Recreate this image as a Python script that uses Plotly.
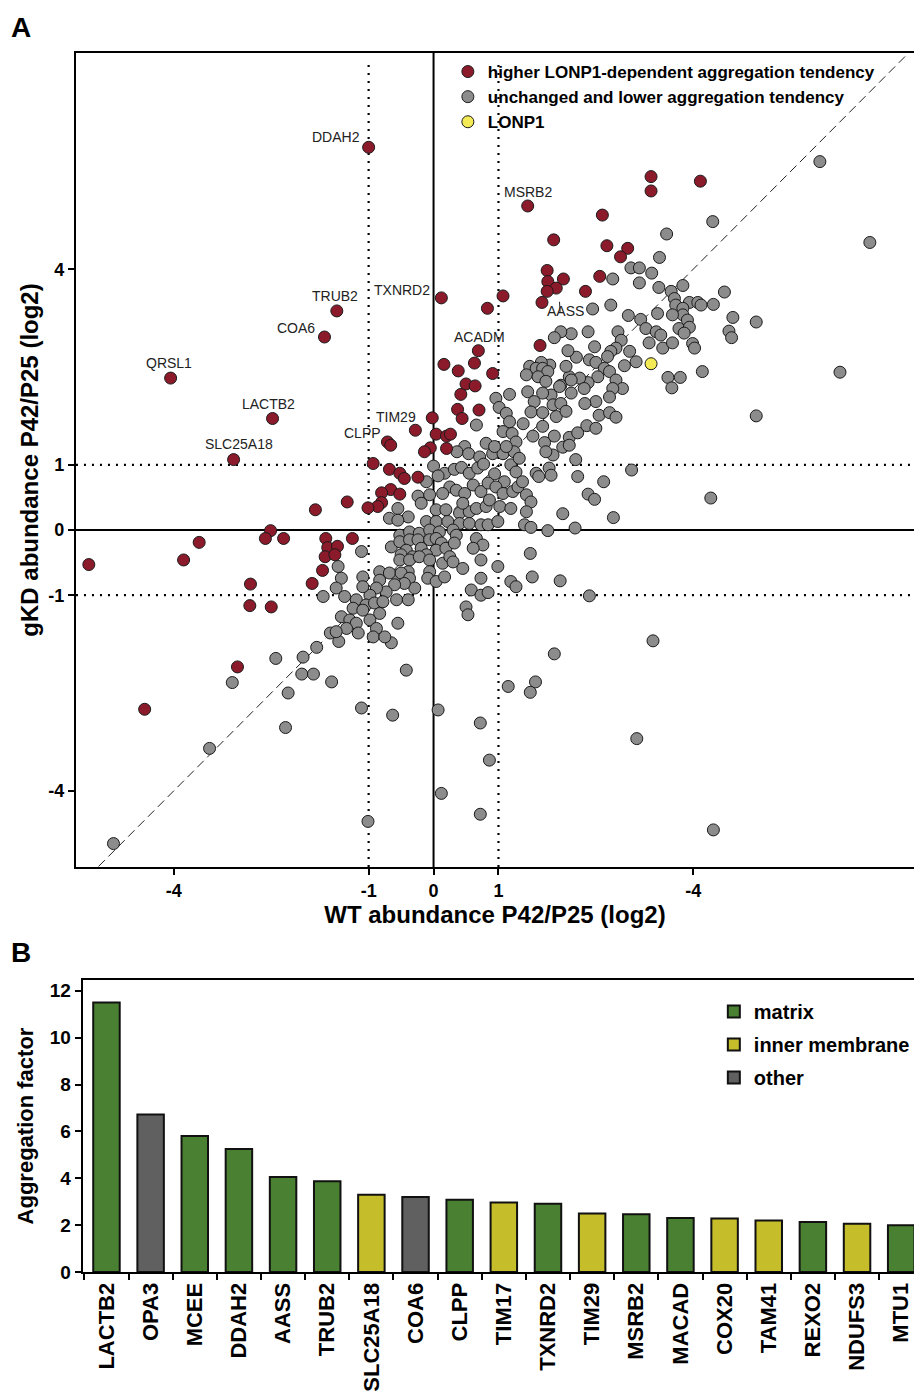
import plotly.graph_objects as go

# ---------------- Panel A data (log2 P42/P25) ----------------
red_pts = [
    (-1.00, 5.87), (0.12, 3.56), (-1.49, 3.36), (-1.68, 2.96), (-4.05, 2.33), (-2.48, 1.71),
    (-3.08, 1.08), (-0.02, 1.72), (-0.28, 1.53), (-0.71, 1.35), (-0.66, 1.30), (0.16, 2.54),
    (0.38, 2.44), (0.42, 2.08), (0.37, 1.85), (0.44, 1.71), (0.04, 1.47), (0.20, 1.44),
    (0.26, 1.47), (-0.05, 1.26), (-0.14, 1.20), (0.20, 1.25), (-0.93, 1.02), (0.83, 3.40),
    (1.07, 3.59), (0.69, 2.75), (0.63, 2.56), (0.91, 2.40), (0.50, 2.24), (0.64, 2.21),
    (0.70, 1.84), (-0.68, 0.93), (-0.52, 0.87), (-0.45, 0.79), (-0.24, 0.81), (-0.66, 0.62),
    (-0.80, 0.57), (-0.52, 0.55), (-0.80, 0.42), (-0.86, 0.36), (-1.01, 0.34), (-1.33, 0.43),
    (-1.82, 0.31), (-2.51, -0.01), (-2.59, -0.13), (-2.31, -0.13), (-3.61, -0.19), (-3.85, -0.46),
    (-5.31, -0.53), (-1.66, -0.13), (-1.25, -0.13), (-1.63, -0.27), (-1.48, -0.25), (-1.67, -0.41),
    (-1.52, -0.38), (-1.71, -0.62), (-1.87, -0.82), (-2.82, -0.83), (-2.83, -1.16), (-2.50, -1.18),
    (-3.02, -2.10), (-4.45, -2.75), (1.45, 4.97), (3.35, 5.42), (3.35, 5.20), (4.11, 5.35),
    (2.60, 4.83), (1.85, 4.45), (2.67, 4.36), (2.99, 4.32), (2.88, 4.19), (1.75, 3.98),
    (1.76, 3.81), (2.00, 3.85), (1.89, 3.71), (1.75, 3.66), (1.67, 3.49), (2.34, 3.66),
    (2.56, 3.89), (1.64, 2.83),
]

gray_pts = [
    # lower-left tail
    (-4.93, -4.81), (-3.45, -3.35), (-3.10, -2.34), (-2.43, -1.97), (-2.24, -2.50), (-2.28, -3.03),
    (-2.01, -1.95), (-1.80, -1.80), (-2.03, -2.21), (-1.85, -2.21), (-1.57, -2.33), (-1.59, -1.58),
    (-1.46, -1.71), (-1.70, -1.02), (-1.11, -2.73), (-0.63, -2.84), (0.07, -2.76), (0.12, -4.04),
    (-1.01, -4.47), (-0.65, -1.73), (-0.42, -2.15),
    # above the centre
    (1.17, 2.08), (0.96, 2.02), (1.01, 1.88), (1.12, 1.79), (1.17, 1.66), (1.07, 1.51),
    (1.21, 1.48), (1.27, 1.35), (0.66, 1.61), (0.81, 1.33), (0.48, 1.28), (0.36, 1.20),
    (0.54, 1.17), (0.71, 1.12), (0.91, 1.17), (1.07, 1.17), (1.24, 1.20), (0.94, 1.28), (1.12, 1.28),
    # dense centre
    (0.00, 0.98), (0.17, 0.87), (0.32, 0.93), (0.43, 0.96), (0.55, 0.87), (0.68, 0.95), (0.77, 1.01),
    (0.94, 0.86), (1.09, 0.74), (1.19, 1.00), (1.27, 0.89), (-0.11, 0.74), (0.07, 0.83), (0.25, 0.66),
    (0.35, 0.61), (0.48, 0.56), (0.61, 0.69), (0.73, 0.59), (0.84, 0.72), (0.96, 0.66), (1.07, 0.56),
    (1.22, 0.59), (1.30, 0.66), (-0.24, 0.52), (-0.06, 0.54), (0.14, 0.56), (-0.55, 0.33), (-0.68, 0.18),
    (-0.39, 0.20), (-0.55, 0.15), (-0.19, 0.41), (0.04, 0.31), (0.19, 0.31), (0.40, 0.26), (0.55, 0.28),
    (0.66, 0.33), (0.81, 0.36), (1.02, 0.36), (1.19, 0.33), (0.86, 0.46), (0.45, 0.41), (-0.11, 0.13),
    (0.04, 0.13), (0.22, 0.13), (0.40, 0.10), (0.55, 0.10), (0.73, 0.08), (0.84, 0.08), (0.99, 0.13),
    (-0.52, -0.08), (-0.37, -0.03), (-0.22, -0.05), (-0.06, 0.00), (0.09, -0.03), (0.30, 0.00),
    (0.35, -0.08), (-0.65, -0.26), (-0.52, -0.18), (-0.37, -0.15), (-0.24, -0.15), (-0.06, -0.15),
    (0.04, -0.13), (0.12, -0.20), (0.04, -0.31), (0.19, -0.28), (0.32, -0.20), (0.66, -0.13),
    (0.76, -0.23), (0.61, -0.28), (-0.19, -0.28), (-0.42, -0.31), (-0.50, -0.38), (-0.32, -0.41),
    (-0.11, -0.38), (-0.52, -0.46), (-0.37, -0.46), (-0.22, -0.41), (-0.06, -0.46), (0.14, -0.51),
    (0.25, -0.41), (0.30, -0.49), (0.45, -0.59), (0.73, -0.46), (0.99, -0.56), (-0.06, -0.64),
    (-0.39, -0.64), (-0.57, -0.69), (-0.83, -0.64), (-1.09, -0.72), (-0.83, -0.77), (-0.68, -0.66),
    (-0.50, -0.66), (-0.37, -0.74), (-0.29, -0.89), (-0.45, -0.82), (-0.60, -0.84), (-0.73, -0.95),
    (-0.88, -0.89), (-0.98, -1.00), (-1.09, -0.87), (-0.09, -0.74), (0.04, -0.79), (0.17, -0.72),
    (0.73, -0.74), (0.58, -0.92), (0.73, -1.00), (0.84, -0.96), (1.19, -0.79), (1.27, -0.87),
    (-1.37, -1.02), (-1.19, -1.07), (-1.04, -1.15), (-0.91, -1.12), (-0.78, -1.10), (-0.57, -1.07),
    (-0.39, -1.07), (-1.24, -1.20), (-1.09, -1.23), (-0.83, -1.28), (0.50, -1.18), (0.53, -1.30),
    (-1.42, -1.33), (-1.29, -1.38), (-1.19, -1.43), (-0.98, -1.38), (-1.34, -1.51), (-1.16, -1.58),
    (-0.88, -1.51), (-0.55, -1.43), (-1.50, -1.56), (-0.93, -1.64), (-0.75, -1.64), (-1.47, -0.56),
    (-1.42, -0.74), (-1.50, -0.89), (-1.11, -0.33),
    # upper-right cloud
    (3.59, 4.54), (4.30, 4.73), (3.48, 4.18), (3.04, 4.02), (3.17, 4.02), (3.36, 3.94), (2.76, 3.85),
    (3.17, 3.79), (3.47, 3.72), (3.84, 3.75), (3.66, 3.66), (3.71, 3.55), (3.73, 3.45), (3.94, 3.49),
    (4.07, 3.49), (4.12, 3.45), (4.31, 3.46), (4.48, 3.65), (4.61, 3.26), (4.55, 3.05), (4.59, 2.95),
    (3.84, 3.40), (3.84, 3.30), (3.68, 3.30), (3.91, 3.22), (3.78, 3.09), (3.94, 3.11), (3.86, 3.02),
    (3.99, 2.86), (4.02, 2.79), (4.14, 2.43), (3.45, 3.32), (3.19, 3.23), (3.27, 3.09), (3.43, 3.04),
    (3.50, 2.99), (3.32, 2.87), (3.53, 2.79), (3.68, 2.87), (3.00, 3.29), (2.73, 3.45), (2.45, 3.39),
    (2.84, 3.04), (2.89, 2.91), (3.02, 2.74), (3.12, 2.58), (2.94, 2.52), (2.81, 2.79), (2.73, 2.74),
    (2.68, 2.66), (2.48, 2.81), (2.38, 3.04), (2.12, 3.01), (1.96, 3.04), (1.86, 2.95), (2.20, 2.65),
    (2.07, 2.75), (2.40, 2.61), (2.50, 2.57), (2.63, 2.48), (2.71, 2.43), (2.53, 2.35), (2.38, 2.26),
    (2.25, 2.33), (2.09, 2.35), (2.04, 2.51), (1.79, 2.53), (1.66, 2.57), (1.48, 2.51), (1.58, 2.48),
    (1.68, 2.48), (1.76, 2.43), (1.43, 2.38), (1.61, 2.35), (1.73, 2.28), (1.96, 2.22), (2.12, 2.30),
    (2.81, 2.30), (2.91, 2.17), (2.76, 2.17), (2.71, 2.04), (2.50, 1.97), (2.32, 2.17), (2.12, 2.10),
    (1.94, 2.20), (1.81, 2.07), (1.68, 2.10), (1.45, 2.12), (1.55, 1.97), (1.84, 1.92), (1.96, 1.94),
    (2.33, 1.94), (3.61, 2.34), (3.80, 2.34), (3.67, 2.18),
    # right of centre
    (1.50, 1.81), (1.68, 1.80), (1.89, 1.74), (2.04, 1.82), (2.55, 1.76), (2.71, 1.80), (2.81, 1.73),
    (1.38, 1.63), (1.68, 1.59), (1.86, 1.44), (1.71, 1.34), (1.53, 1.44), (2.09, 1.42), (2.22, 1.49),
    (2.36, 1.60), (2.50, 1.56), (1.99, 1.27), (2.09, 1.30), (1.84, 1.15), (1.73, 1.20), (1.32, 1.10),
    (2.19, 1.08), (1.78, 0.95), (1.81, 0.84), (1.58, 0.87), (1.62, 0.82), (2.22, 0.82), (2.62, 0.74),
    (3.05, 0.92), (1.37, 0.74), (1.43, 0.54), (1.50, 0.43), (1.43, 0.28), (2.38, 0.55), (2.48, 0.47),
    (1.99, 0.25), (2.77, 0.19), (1.40, 0.08), (1.50, 0.04), (1.76, -0.01), (2.18, 0.03), (1.49, -0.36),
    # scattered outliers
    (4.97, 3.19), (6.26, 2.42), (4.97, 1.75), (5.95, 5.65), (6.72, 4.41), (4.27, 0.49), (3.38, -1.70),
    (1.86, -1.90), (1.57, -2.33), (1.49, -2.49), (1.15, -2.40), (0.72, -2.96), (0.86, -3.53),
    (0.72, -4.36), (3.13, -3.20), (4.31, -4.60), (2.40, -1.01), (1.95, -0.78), (1.52, -0.72),
]

lonp1_pts = [(3.35, 2.55)]

gene_labels = ["DDAH2", "TXNRD2", "TRUB2", "COA6", "QRSL1", "LACTB2", "SLC25A18",
               "TIM29", "CLPP", "MSRB2", "ACADM", "AASS"]
gene_label_x = [-1.51, -0.49, -1.52, -2.12, -4.08, -2.55, -3.00, -0.58, -1.09, 1.46, 0.71, 2.03]
gene_label_y = [6.03, 3.68, 3.59, 3.10, 2.56, 1.93, 1.32, 1.73, 1.49, 5.18, 2.96, 3.36]

x_tickvals = [-4, -1, 0, 1, 4]
x_ticktext = ["-4", "-1", "0", "1", "-4"]
y_tickvals = [-4, -1, 0, 1, 4]
y_ticktext = ["-4", "-1", "0", "1", "4"]

# ---------------- Panel B data ----------------
proteins = ["LACTB2", "OPA3", "MCEE", "DDAH2", "AASS", "TRUB2", "SLC25A18", "COA6", "CLPP",
            "TIM17", "TXNRD2", "TIM29", "MSRB2", "MACAD", "COX20", "TAM41", "REXO2", "NDUFS3", "MTU1"]
agg_factor = [11.5, 6.72, 5.8, 5.25, 4.05, 3.87, 3.3, 3.2, 3.08, 2.97, 2.91, 2.5, 2.46, 2.3,
              2.28, 2.2, 2.13, 2.06, 2.0]
location = ["matrix", "other", "matrix", "matrix", "matrix", "matrix", "inner membrane", "other",
            "matrix", "inner membrane", "matrix", "inner membrane", "matrix", "matrix",
            "inner membrane", "inner membrane", "matrix", "inner membrane", "matrix"]
loc_order = ["matrix", "inner membrane", "other"]
loc_colors = {"matrix": "#4a8032", "inner membrane": "#c6bd2a", "other": "#606060"}

FONT = "Liberation Sans, Arial, sans-serif"
H_EFF = 1381.0  # effective rendered height used for vertical placement


def py(pixel_y):
    """paper fraction for a vertical pixel position"""
    return 1 - pixel_y / H_EFF


fig = go.Figure()

def col(pts, i):
    return [p[i] for p in pts]

MS = 12
fig.add_trace(go.Scatter(
    x=col(gray_pts, 0), y=col(gray_pts, 1), mode="markers",
    name="unchanged and lower aggregation tendency", legendrank=2,
    marker=dict(size=MS, color="#8c8c8c", line=dict(color="#1a1a1a", width=1)),
    xaxis="x", yaxis="y"))
fig.add_trace(go.Scatter(
    x=col(red_pts, 0), y=col(red_pts, 1), mode="markers",
    name="higher LONP1-dependent aggregation tendency", legendrank=1,
    marker=dict(size=MS, color="#8b1a2b", line=dict(color="#1a1a1a", width=1)),
    xaxis="x", yaxis="y"))
fig.add_trace(go.Scatter(
    x=col(lonp1_pts, 0), y=col(lonp1_pts, 1), mode="markers",
    name="LONP1", legendrank=3,
    marker=dict(size=MS, color="#f3ea55", line=dict(color="#1a1a1a", width=1)),
    xaxis="x", yaxis="y"))

for loc in loc_order:
    xs = [p for p, l in zip(proteins, location) if l == loc]
    ys = [v for v, l in zip(agg_factor, location) if l == loc]
    fig.add_trace(go.Bar(
        x=xs, y=ys, name=loc, width=0.6, legend="legend2", legendgroup=loc,
        marker=dict(color=loc_colors[loc], line=dict(color="#111111", width=2)),
        xaxis="x2", yaxis="y2"))

# reference lines in panel A
DOT = "2px,6px"
shapes = []
for xv, dash, top in [(-1, DOT, 0.99), (1, DOT, 0.99), (0, "solid", 1.0)]:
    shapes.append(dict(type="line", xref="x", yref="y domain", x0=xv, x1=xv, y0=0, y1=top,
                       line=dict(color="black", width=2 if dash == "solid" else 2.2, dash=dash),
                       layer="below"))
for yv, dash in [(-1, DOT), (1, DOT), (0, "solid")]:
    shapes.append(dict(type="line", xref="x domain", yref="y", x0=0, x1=1, y0=yv, y1=yv,
                       line=dict(color="black", width=2 if dash == "solid" else 2.2, dash=dash),
                       layer="below"))
shapes.append(dict(type="line", xref="x", yref="y", x0=-5.16, y0=-5.16, x1=7.31, y1=7.31,
                   line=dict(color="#222222", width=1, dash="9px,5px"), layer="below"))
# leader line for AASS
shapes.append(dict(type="line", xref="x", yref="y", x0=1.94, y0=3.50, x1=1.95, y1=3.33,
                   line=dict(color="#222222", width=1)))

annotations = []
for name, lx, ly in zip(gene_labels, gene_label_x, gene_label_y):
    annotations.append(dict(x=lx, y=ly, xref="x", yref="y", text=name, showarrow=False,
                            xanchor="center", yanchor="middle",
                            font=dict(family=FONT, size=14, color="#222222")))
annotations.append(dict(x=0.023, y=py(28), xref="paper", yref="paper", text="<b>A</b>",
                        xanchor="center", yanchor="middle",
                        showarrow=False, font=dict(family=FONT, size=28, color="black")))
annotations.append(dict(x=0.023, y=py(952), xref="paper", yref="paper", text="<b>B</b>",
                        xanchor="center", yanchor="middle",
                        showarrow=False, font=dict(family=FONT, size=28, color="black")))

tickfont = dict(family=FONT, size=18, color="black", weight="bold")
axis_common = dict(showgrid=False, zeroline=False, showline=True, linecolor="black", linewidth=2,
                   ticks="outside", ticklen=6, tickwidth=2, tickcolor="black")

fig.update_layout(
    width=915, height=1392, autosize=False, margin=dict(l=0, r=0, t=0, b=0),
    paper_bgcolor="white", plot_bgcolor="white",
    font=dict(family=FONT, color="black"),
    barmode="overlay",
    shapes=shapes, annotations=annotations,
    xaxis=dict(domain=[0.0831, 1.0], range=[-5.508, 7.40], anchor="y", mirror=True,
               tickvals=x_tickvals, ticktext=x_ticktext, tickfont=tickfont,
               title=dict(text="WT abundance P42/P25 (log2)", standoff=5,
                          font=dict(family=FONT, size=24, weight="bold")), **axis_common),
    yaxis=dict(domain=[py(867), py(53)], range=[-5.169, 7.316], anchor="x",
               tickvals=y_tickvals, ticktext=y_ticktext, tickfont=tickfont,
               title=dict(text="gKD abundance P42/P25 (log2)", standoff=3,
                          font=dict(family=FONT, size=24, weight="bold")), **axis_common),
    xaxis2=dict(domain=[0.0904, 1.0], range=[-0.54, 18.29], anchor="y2", type="category",
                categoryorder="array", categoryarray=proteins, tickson="boundaries",
                tickangle=-90, mirror=True,
                tickfont=dict(family=FONT, size=22, color="black", weight="bold"), **axis_common),
    yaxis2=dict(domain=[py(1272), py(980)], range=[0, 12.46], anchor="x2", dtick=2,
                tickfont=dict(family=FONT, size=19, color="black", weight="bold"),
                title=dict(text="Aggregation factor", standoff=10,
                           font=dict(family=FONT, size=22, weight="bold")), **axis_common),
    legend=dict(x=0.490, y=py(54), xanchor="left", yanchor="top", bgcolor="rgba(0,0,0,0)",
                font=dict(family=FONT, size=17, color="black", weight="bold"),
                tracegroupgap=0, itemwidth=30),
    legend2=dict(x=0.781, y=py(992), xanchor="left", yanchor="top", bgcolor="rgba(0,0,0,0)",
                 font=dict(family=FONT, size=20, color="black", weight="bold"),
                 traceorder="grouped", tracegroupgap=4, itemwidth=30),
)

fig.write_html(
    "out.html",
    config={"displayModeBar": False, "responsive": False},
    post_script="document.documentElement.style.overflow='hidden';"
                "document.body.style.margin='0px';document.body.style.overflow='hidden';",
)
